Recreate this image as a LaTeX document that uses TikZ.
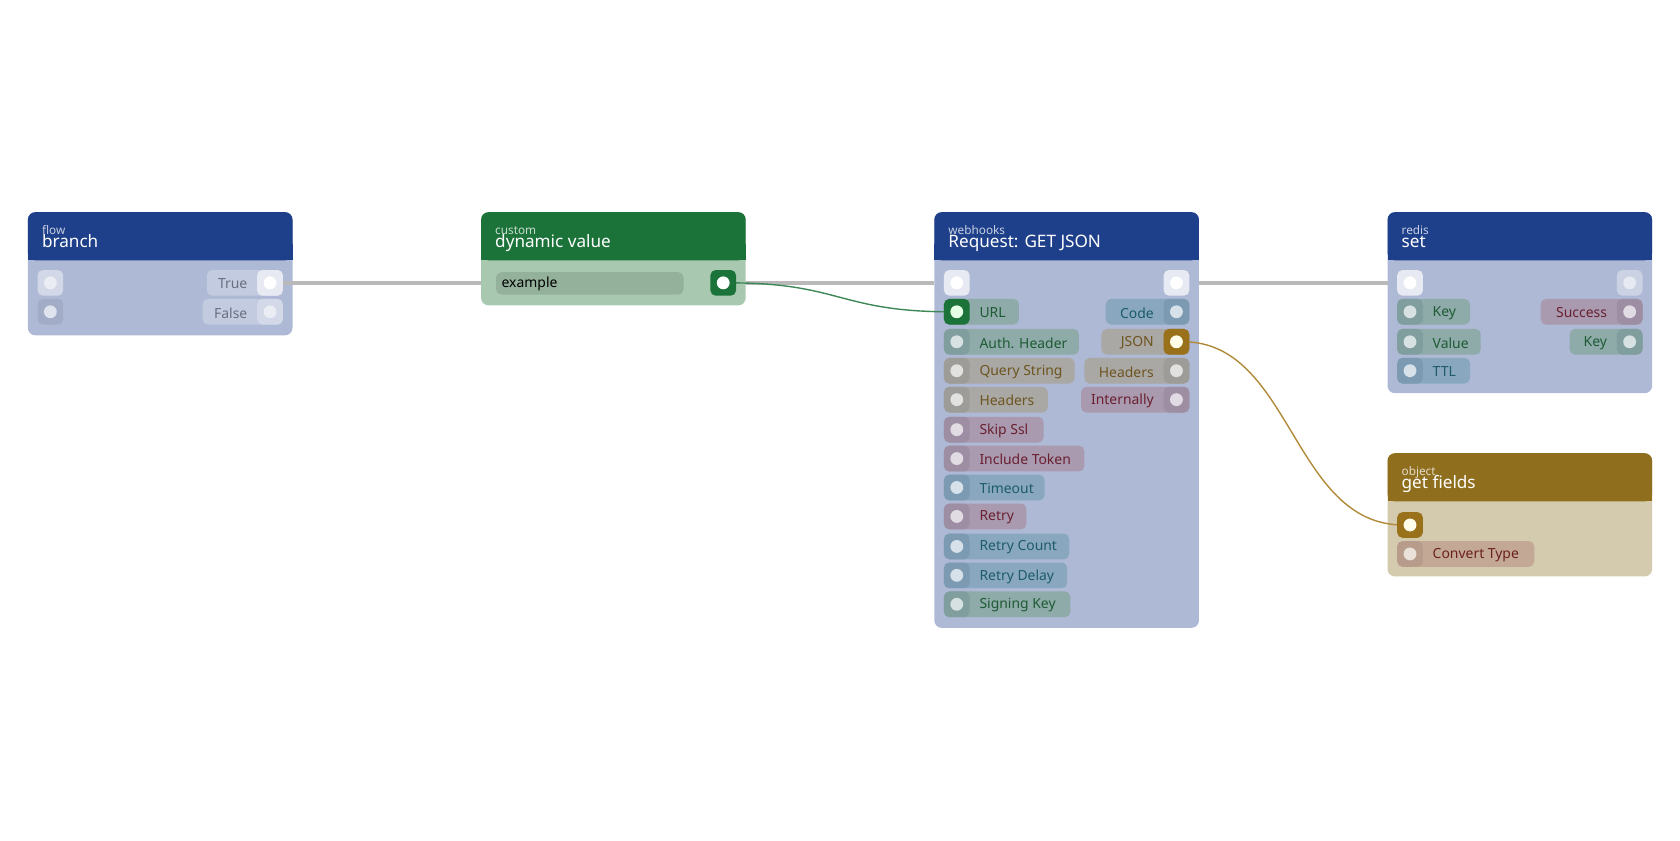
\documentclass[tikz,border=0pt]{standalone}
\usepackage{fontspec}
\setmainfont{Noto Sans}
\pgfdeclarelayer{cards}
\pgfdeclarelayer{wires}
\pgfsetlayers{cards,wires,main}
\definecolor{headblue}{HTML}{1E3F8A}
\definecolor{bodyblue}{HTML}{AEB9D5}
\definecolor{headgreen}{HTML}{1C7339}
\definecolor{bodygreen}{HTML}{A8C9B0}
\definecolor{headgold}{HTML}{8F6F1E}
\definecolor{bodygold}{HTML}{D4CBAE}
\definecolor{greenpill}{HTML}{8EAAA9}\definecolor{greenport}{HTML}{809E9E}\definecolor{greentxt}{HTML}{1E5B34}
\definecolor{bluepill}{HTML}{89A8BF}\definecolor{blueport}{HTML}{7C9BB3}\definecolor{bluetxt}{HTML}{1D5B6B}
\definecolor{tanpill}{HTML}{A9A8A4}\definecolor{tanport}{HTML}{9D9C98}\definecolor{tantxt}{HTML}{6E5420}
\definecolor{mauvepill}{HTML}{A99AAF}\definecolor{mauveport}{HTML}{9D8EA4}\definecolor{mauvetxt}{HTML}{6A2030}
\definecolor{rustpill}{HTML}{C4A896}\definecolor{rustport}{HTML}{B89C8B}\definecolor{rusttxt}{HTML}{6A2020}
\definecolor{greypill}{HTML}{C3CBE0}\definecolor{greyport}{HTML}{D3D9E9}\definecolor{greytxt}{HTML}{6B7080}
\definecolor{wiregrey}{HTML}{B9B9B9}
\definecolor{wiregold}{HTML}{B08A38}
\tikzset{
  dot/.style={circle,fill=#1,inner sep=0pt,minimum size=12pt},
  dot/.default={white!85!bodyblue},
  lbl/.style={inner sep=0pt,font=\fontsize{13}{15}\selectfont,text=#1},
  wire/.style={line width=4pt,draw=wiregrey},
  link/.style={line width=1.3pt,draw=#1}
}
% card: name, x, top, bottom, category, title, kind
\newcommand\card[7]{%
  \begin{pgfonlayer}{cards}
  \fill[body#7,rounded corners=7pt] (#2,#3) rectangle (#2+247,#4);
  \fill[head#7,rounded corners=7pt] (#2,#3) rectangle (#2+247,#3+45);
  \fill[head#7] (#2,#3+30) rectangle (#2+247,#3+45);
  \end{pgfonlayer}
  \node[lbl=white!75!head#7,font=\fontsize{11}{12}\selectfont,anchor=base west] at (#2+13,#3+21) {#5};
  \node[lbl=white,font=\fontsize{16}{18}\selectfont,anchor=base west] (#1) at (#2+13,#3+33) {#6};
  \coordinate (#1-w) at (#2,#3+66);
  \coordinate (#1-e) at (#2+247,#3+66);}
% input pill: name, x, y, width, label, kind
\newcommand\inpill[6]{%
  \fill[#6pill,rounded corners=5pt] (#2,#3-12) rectangle ++(#4,24);
  \fill[#6port,rounded corners=5pt] (#2,#3-12) rectangle ++(24,24);
  \node[dot=white!65!#6pill] (#1) at (#2+12,#3) {};
  \node[lbl=#6txt,anchor=west] at (#2+33,#3+1) {#5};}
% output pill: name, right x, y, width, label, kind
\newcommand\outpill[6]{%
  \fill[#6pill,rounded corners=5pt] (#2-#4,#3-12) rectangle (#2,#3+12);
  \fill[#6port,rounded corners=5pt] (#2-24,#3-12) rectangle (#2,#3+12);
  \node[dot=white!65!#6pill] (#1) at (#2-12,#3) {};
  \node[lbl=#6txt,anchor=east] at (#2-33,#3+1) {#5};}
% bare port: name, x, y, fill, dot
\newcommand\bareport[5]{%
  \fill[#4,rounded corners=5pt] (#2-12,#3-12) rectangle (#2+12,#3+12);
  \node[dot=#5] (#1) at (#2,#3) {};}
\begin{document}
\begin{tikzpicture}[x=1pt,y=-1pt]
\begin{pgfonlayer}{cards}
\fill[white] (0,0) rectangle (1568,784);
\end{pgfonlayer}
\useasboundingbox (0,0) rectangle (1568,784);

%cards
\card{branch}{26}{198}{313}{flow}{branch}{blue}
\card{dynval}{449}{198}{285}{custom}{dynamic value}{green}
\card{request}{872}{198}{586}{webhooks}{Request: GET JSON}{blue}
\card{rset}{1295}{198}{367}{redis}{set}{blue}
\card{fields}{1295}{423}{538}{object}{get fields}{gold}

%branch ports
\bareport{br-in1}{47}{264}{white!45!bodyblue}{white!75!bodyblue}
\bareport{br-in2}{47}{291}{bodyblue!93!black}{white!60!bodyblue}
\outpill{br-true}{264}{264}{71}{True}{grey}
\outpill{br-false}{264}{291}{75}{False}{grey}
\bareport{br-true}{252}{264}{white!70!bodyblue}{white}

%dynamic value
\fill[bodygreen!88!black,rounded corners=5pt] (463,254) rectangle (638,275);
\node[lbl=black,anchor=west] (dv-field) at (468,265) {example};
\bareport{dv-out}{675}{264}{headgreen}{white}

%request ports
\bareport{rq-in}{893}{264}{white!70!bodyblue}{white}
\bareport{rq-out}{1098}{264}{white!70!bodyblue}{white}
\inpill{rq-url}{881}{291}{70}{URL}{green}
\bareport{rq-url}{893}{291}{headgreen}{white!90!green}
\foreach \n/\y/\w/\t/\k in {auth/319/126/Auth. Header/green, query/346/122/Query String/tan,
    hdr/373/97/Headers/tan, ssl/401/93/Skip Ssl/mauve, token/428/131/Include Token/mauve,
    tout/455/94/Timeout/blue, retry/482/77/Retry/mauve, rcount/510/117/Retry Count/blue,
    rdelay/537/115/Retry Delay/blue, sign/564/118/Signing Key/green}
  {\inpill{rq-\n}{881}{\y}{\w}{\t}{\k}}
\foreach \n/\y/\w/\t/\k in {code/291/78/Code/blue, json/319/82/JSON/tan,
    rhdr/346/98/Headers/tan, intern/373/101/Internally/mauve}
  {\outpill{rq-\n}{1110}{\y}{\w}{\t}{\k}}
\bareport{rq-json}{1098}{319}{headgold!90!orange}{white!92!yellow}

%redis set ports
\bareport{rs-in}{1316}{264}{white!70!bodyblue}{white}
\bareport{rs-out}{1521}{264}{white!35!bodyblue}{white!70!bodyblue}
\inpill{rs-key}{1304}{291}{68}{Key}{green}
\inpill{rs-val}{1304}{319}{78}{Value}{green}
\inpill{rs-ttl}{1304}{346}{68}{TTL}{blue}
\outpill{rs-ok}{1533}{291}{95}{Success}{mauve}
\outpill{rs-okey}{1533}{319}{68}{Key}{green}

%get fields ports
\bareport{gf-in}{1316}{490}{headgold!90!orange}{white!92!yellow}
\inpill{gf-conv}{1304}{517}{128}{Convert Type}{rust}

%wires
\begin{pgfonlayer}{wires}
\draw[wire] (br-true) -- (dynval-w);
\draw[wire] (dynval-e) -- (request-w);
\draw[wire] (request-e) -- (rset-w);
\draw[link=headgreen!85!white] (dv-out) .. controls (784,264) and (784,291) .. (rq-url);
\draw[link=wiregold] (rq-json) .. controls (1206,319) and (1206,490) .. (gf-in);
\end{pgfonlayer}
\end{tikzpicture}
\end{document}
